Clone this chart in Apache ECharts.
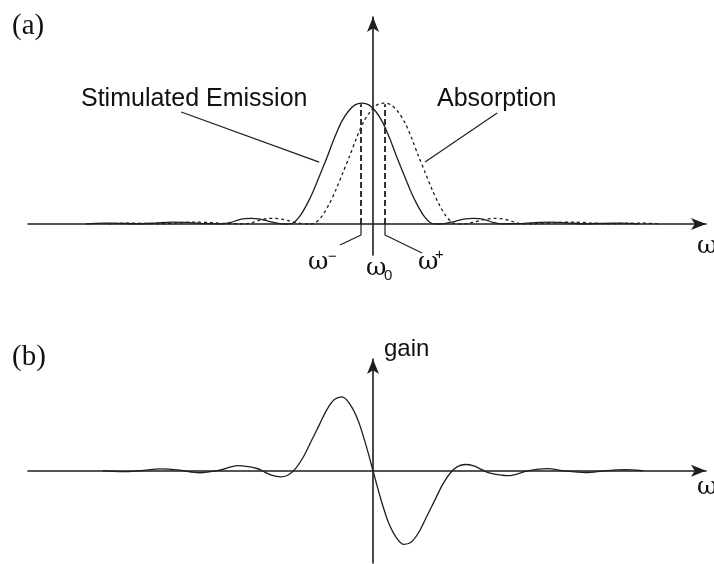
<!DOCTYPE html>
<html><head><meta charset="utf-8">
<script src="https://cdn.jsdelivr.net/npm/echarts@6/dist/echarts.min.js"></script>
<style>html,body{margin:0;padding:0;background:#fff}#c{width:714px;height:564px}</style>
</head><body><div id="c"></div>
<script>
// ---- data (ω in units of the main-lobe half width) ----
const omegaEmission = [-4.16,-3.91,-3.66,-3.41,-3.16,-2.91,-2.66,-2.41,-2.16,-2.06,-1.96,-1.86,-1.76,-1.66,-1.56,-1.46,-1.36,-1.26,-1.16,-1.06,-0.96,-0.86,-0.76,-0.66,-0.56,-0.46,-0.36,-0.26,-0.16,-0.06,0.04,0.14,0.24,0.34,0.44,0.54,0.64,0.74,0.84,0.94,1.04,1.14,1.24,1.34,1.44,1.54,1.64,1.74,1.84,2.09,2.34,2.59,2.84,3.09,3.34,3.59,3.84];
const emission = [0.001,0.007,0.006,0.002,0.008,0.016,0.012,0.003,0.002,0.014,0.032,0.044,0.047,0.042,0.030,0.015,0.004,0.000,0.008,0.065,0.16,0.28,0.42,0.56,0.71,0.84,0.93,0.985,1.0,0.985,0.93,0.84,0.71,0.56,0.42,0.28,0.16,0.065,0.008,0.000,0.004,0.015,0.030,0.042,0.047,0.044,0.032,0.014,0.002,0.003,0.012,0.016,0.008,0.002,0.006,0.007,0.001];
const omegaAbsorption = [-3.84,-3.59,-3.34,-3.09,-2.84,-2.59,-2.34,-2.09,-1.84,-1.74,-1.64,-1.54,-1.44,-1.34,-1.24,-1.14,-1.04,-0.94,-0.84,-0.74,-0.64,-0.54,-0.44,-0.34,-0.24,-0.14,-0.04,0.06,0.16,0.26,0.36,0.46,0.56,0.66,0.76,0.86,0.96,1.06,1.16,1.26,1.36,1.46,1.56,1.66,1.76,1.86,1.96,2.06,2.16,2.41,2.66,2.91,3.16,3.41,3.66,3.91,4.16];
const absorption = [0.001,0.007,0.006,0.002,0.008,0.016,0.012,0.003,0.002,0.014,0.032,0.044,0.047,0.042,0.030,0.015,0.004,0.000,0.008,0.065,0.16,0.28,0.42,0.56,0.71,0.84,0.93,0.985,1.0,0.985,0.93,0.84,0.71,0.56,0.42,0.28,0.16,0.065,0.008,0.000,0.004,0.015,0.030,0.042,0.047,0.044,0.032,0.014,0.002,0.003,0.012,0.016,0.008,0.002,0.006,0.007,0.001];
const omegaGain = [-3.92,-3.64,-3.36,-3.08,-2.8,-2.52,-2.24,-1.96,-1.68,-1.57,-1.46,-1.34,-1.23,-1.12,-1.01,-0.9,-0.78,-0.67,-0.56,-0.45,-0.34,-0.22,-0.11,0,0.11,0.22,0.34,0.45,0.56,0.67,0.78,0.9,1.01,1.12,1.23,1.34,1.46,1.57,1.68,1.96,2.24,2.52,2.8,3.08,3.36,3.64,3.92];
const gain = [0.001,-0.008,0.001,0.015,0.004,-0.017,0.002,0.041,0.018,-0.011,-0.039,-0.051,-0.035,0.019,0.112,0.237,0.374,0.499,0.583,0.605,0.550,0.418,0.226,0,-0.226,-0.418,-0.550,-0.605,-0.583,-0.499,-0.374,-0.237,-0.112,-0.019,0.035,0.051,0.039,0.011,-0.018,-0.041,-0.002,0.017,-0.004,-0.015,-0.001,0.008,-0.001];
const omegaMinus = -0.174, omegaPlus = 0.174, markerTop = 0.99;
// label leader lines (data coords of panel a)
const leaderEmission = [[-2.78,0.926],[-0.78,0.512]];
const leaderAbsorption = [[1.80,0.917],[0.754,0.512]];
const leaderMinus = [[-0.174,0],[-0.174,-0.091],[-0.478,-0.174]];
const leaderPlus = [[0.174,0],[0.174,-0.091],[0.71,-0.24]];

const INK = '#1e1e1e';
const zip = (xs, ys) => xs.map((x, i) => [x, ys[i]]);

const axisX = (gi) => ({
  type:'value', gridIndex:gi, min:-5, max:4.826,
  axisLine:{show:true,onZero:true,symbol:['none','arrow'],symbolSize:[9,15],lineStyle:{color:INK,width:1.6}},
  axisTick:{show:false}, axisLabel:{show:false}, splitLine:{show:false}
});
const axisY = (gi, mn, mx) => ({
  type:'value', gridIndex:gi, min:mn, max:mx,
  axisLine:{show:true,onZero:true,symbol:['none','arrow'],symbolSize:[9,15],lineStyle:{color:INK,width:1.6}},
  axisTick:{show:false}, axisLabel:{show:false}, splitLine:{show:false}
});
const line = (data, gi, style, extra) => Object.assign({
  type:'line', xAxisIndex:gi, yAxisIndex:gi, data, symbol:'none', silent:true,
  lineStyle:Object.assign({color:INK,width:1.3}, style)
}, extra || {});

const sans = 'Liberation Sans, Arial, sans-serif';
const serif = 'Liberation Serif, Times New Roman, serif';
const omegaFont = 'DejaVu Serif, serif';
const txt = (text, x, y, font) => ({
  type:'text', x, y, silent:true,
  style:{text, fill:'#111', font, align:'left', verticalAlign:'middle', textAlign:'left', textVerticalAlign:'middle'}
});

const chart = echarts.init(document.getElementById('c'), null, {renderer:'canvas'});
chart.setOption({
  animation:false,
  backgroundColor:'#fff',
  grid:[
    {left:28, right:8, top:17, height:238},
    {left:28, right:8, top:359, height:204}
  ],
  xAxis:[axisX(0), axisX(1)],
  yAxis:[axisY(0,-0.256,1.711), axisY(1,-0.757,0.916)],
  series:[
    line(zip(omegaEmission, emission), 0, {}, {smooth:0.3}),
    line(zip(omegaAbsorption, absorption), 0, {type:[3,3], width:1.3}, {smooth:0.3}),
    line([[omegaMinus,0],[omegaMinus,markerTop]], 0, {type:[6,3], width:1.8}),
    line([[omegaPlus,0],[omegaPlus,markerTop]], 0, {type:[6,3], width:1.8}),
    line(leaderEmission, 0, {width:1.2}),
    line(leaderAbsorption, 0, {width:1.2}),
    line(leaderMinus, 0, {width:1.2}),
    line(leaderPlus, 0, {width:1.2}),
    line(zip(omegaGain, gain), 1, {}, {smooth:0.3})
  ],
  graphic:[
    txt('(a)', 12, 26, '29px ' + serif),
    txt('(b)', 12, 357, '29px ' + serif),
    txt('Stimulated Emission', 81, 99, '25px ' + sans),
    txt('Absorption', 437, 99, '25px ' + sans),
    txt('gain', 384, 349, '24px ' + sans),
    txt('ω', 697, 246, '25px ' + omegaFont),
    txt('ω', 697, 487, '25px ' + omegaFont),
    txt('ω', 308, 262, '25px ' + omegaFont),
    txt('−', 328, 257, '15px ' + sans),
    txt('ω', 366, 268, '25px ' + omegaFont),
    txt('0', 384, 276, '15px ' + sans),
    txt('ω', 418, 262, '25px ' + omegaFont),
    txt('+', 435, 255, '15px ' + sans)
  ]
});
</script>
</body></html>
